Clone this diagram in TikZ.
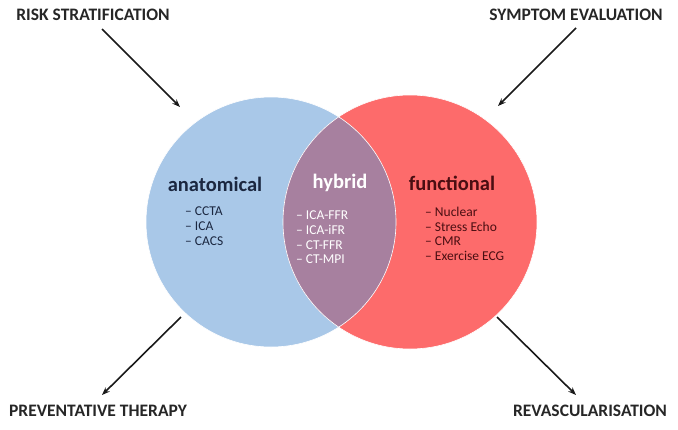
\documentclass[tikz,border=0pt]{standalone}
\usepackage{fontspec}
\setmainfont{Carlito}
\usetikzlibrary{arrows.meta}
\definecolor{cblue}{HTML}{A9C8E8}
\definecolor{cred}{HTML}{FD6B6B}
\definecolor{clens}{HTML}{A7809F}
\definecolor{tnavy}{HTML}{1B2740}
\definecolor{tred}{HTML}{4A0E12}
\tikzset{
  head/.style={font=\bfseries\fontsize{17.5}{20}\selectfont, text=black!85},
  title/.style={font=\bfseries\fontsize{20.5}{24}\selectfont},
  item/.style={font=\fontsize{13.5}{14.6}\selectfont, align=left, anchor=north west, inner sep=0pt},
  arr/.style={-{Stealth[length=8pt,width=6pt]}, line width=1.6pt, black!90},
}
\begin{document}
\begin{tikzpicture}[x=1pt,y=-1pt]
\useasboundingbox (0,0) rectangle (678,429);
\coordinate (cl) at (271,222);
\coordinate (cr) at (410,222);
\fill[cblue] (cl) circle (125);
\fill[cred] (cr) circle (127);
\begin{scope}
  \clip (cl) circle (125);
  \fill[clens] (cr) circle (127);
\end{scope}
\draw[white, line width=0.6pt] (cl) circle (125);
\draw[white, line width=0.6pt] (cr) circle (127);

\node[title, text=tnavy] (anat) at (215,184) {anatomical};
\node[title, text=white] (hyb) at (340,183) {hybrid};
\node[title, text=tred] (func) at (452,183) {functional};

\node[item, text=tnavy] (anatl) at (185,207) {– CCTA\\– ICA\\– CACS};
\node[item, text=white] (hybl) at (296,211) {– ICA-FFR\\– ICA-iFR\\– CT-FFR\\– CT-MPI};
\node[item, text=tred] (funcl) at (425,207) {– Nuclear\\– Stress Echo\\– CMR\\– Exercise ECG};

\node[head] (risk) at (93,15) {RISK STRATIFICATION};
\node[head] (symp) at (576,15) {SYMPTOM EVALUATION};
\node[head] (prev) at (98,411) {PREVENTATIVE THERAPY};
\node[head] (revas) at (590,411) {REVASCULARISATION};

\coordinate (r1) at (102,29);
\coordinate (r2) at (180,107);
\coordinate (s1) at (576,28);
\coordinate (s2) at (498,106);
\coordinate (p1) at (181,317);
\coordinate (p2) at (102,395);
\coordinate (v1) at (497,317);
\coordinate (v2) at (576,395);
\draw[arr] (r1) -- (r2);
\draw[arr] (s1) -- (s2);
\draw[arr] (p1) -- (p2);
\draw[arr] (v1) -- (v2);
\end{tikzpicture}
\end{document}
